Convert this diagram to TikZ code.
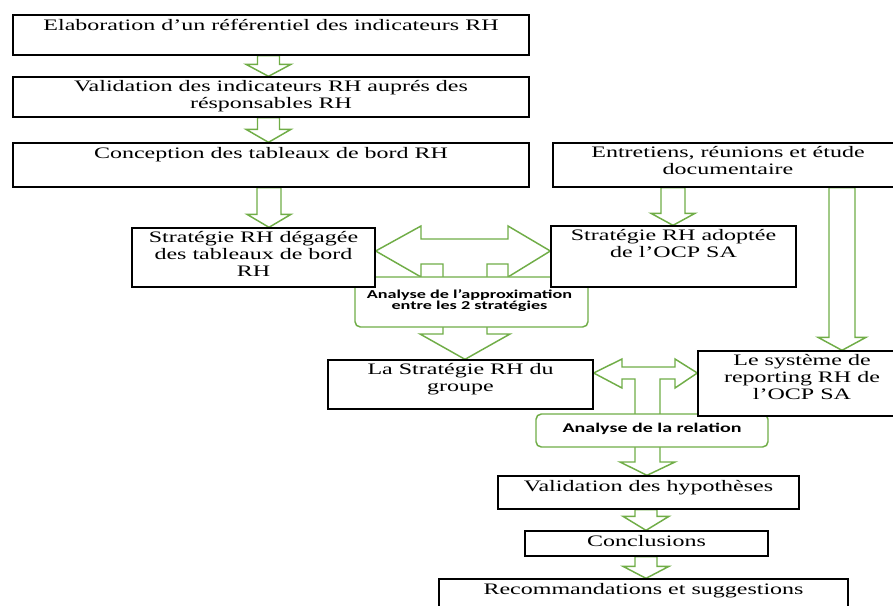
\documentclass[tikz,border=0pt]{standalone}
\usepackage{fontspec}
\setmainfont{Liberation Serif}[FakeStretch=1.5]
\newfontfamily\calb{Carlito}[FakeStretch=1.5]
\usetikzlibrary{fit,calc}
\definecolor{ogreen}{HTML}{70AD47}
\pgfdeclarelayer{back}
\pgfdeclarelayer{mid}
\pgfsetlayers{back,mid,main}
\tikzset{
  box/.style={draw=black, line width=1pt, fill=white, inner sep=0pt, rectangle},
  abox/.style={draw=ogreen, line width=1.1pt, fill=white, rounded corners=4pt, inner sep=0pt, rectangle},
  garrow/.style={draw=ogreen, line width=1.1pt, fill=white, line join=miter},
  txt/.style={anchor=north, inner sep=0pt, align=center, font=\fontsize{12}{12.75}\selectfont, execute at begin node=\rule{0pt}{9pt}},
  atxt/.style={inner sep=0pt, align=center},
}
% vertical block arrow: x (px), from node, to node, shaft half, head half, head length (px)
\newcommand\vdarrow[6]{%
  \draw[garrow] let \p1=(#2.south), \p2=(#3.north), \p3=(#1,0) in
    (\x3-#4*0.75pt,\y1) -- (\x3-#4*0.75pt,\y2+#6*0.75pt) -- (\x3-#5*0.75pt,\y2+#6*0.75pt)
    -- (\x3,\y2) -- (\x3+#5*0.75pt,\y2+#6*0.75pt) -- (\x3+#4*0.75pt,\y2+#6*0.75pt)
    -- (\x3+#4*0.75pt,\y1) -- cycle;}
\begin{document}
\begin{tikzpicture}[x=0.75pt,y=-0.75pt]
\useasboundingbox (0,0) rectangle (893,606);
\clip (0,0) rectangle (893,606);

% boxes
\node[box, fit={(13,15)(529,55)}] (b1) {};
\node[box, fit={(13,77)(529,117)}] (b2) {};
\node[box, fit={(13,143)(529,187)}] (b3) {};
\node[box, fit={(132,228)(375,287)}] (b4) {};
\node[box, fit={(551,226)(796,287)}] (b5) {};
\node[box, fit={(553,143)(903,187)}] (be) {};
\node[box, fit={(328,360)(593,409)}] (bg) {};
\node[box, fit={(698,351)(906,416)}] (ls) {};
\node[box, fit={(498,476)(799,509)}] (vh) {};
\node[box, fit={(525,531)(768,556)}] (cc) {};
\node[box, fit={(439,579)(848,625)}] (rs) {};

% texts
\node[txt] (t1) at ([yshift=-3pt]b1.north) {Elaboration d’un référentiel des indicateurs RH};
\node[txt] (t2) at ([yshift=-3pt]b2.north) {Validation des indicateurs RH auprés des\\résponsables RH};
\node[txt] (t3) at ([yshift=-3pt]b3.north) {Conception des tableaux de bord RH};
\node[txt] (t4) at ([yshift=-3pt]b4.north) {Stratégie RH dégagée\\des tableaux de bord\\RH};
\node[txt] (t5) at ([yshift=-3pt]b5.north) {Stratégie RH adoptée\\de l’OCP SA};
\node[txt] (te) at ([yshift=-3pt]be.north) {Entretiens, réunions et étude\\documentaire};
\node[txt] (tg) at ([yshift=-3pt]bg.north) {La Stratégie RH du\\groupe};
\node[txt] (tl) at ([yshift=-3pt]ls.north) {Le système de\\reporting RH de\\l’OCP SA};
\node[txt] (tv) at ([yshift=-3pt]vh.north) {Validation des hypothèses};
\node[txt] (tc) at ([yshift=-3pt]cc.north) {Conclusions};
\node[txt] (tr) at ([yshift=-3pt]rs.north) {Recommandations et suggestions};

% analysis boxes
\begin{pgfonlayer}{mid}
\node[abox, fit={(355,277)(588,327)}] (a1) {};
\node[abox, fit={(536,414)(768,447)}] (a2) {};
\end{pgfonlayer}
\node[atxt, font=\calb\bfseries\fontsize{9.1}{8.6}\selectfont] (at1) at ([xshift=-1.5pt,yshift=1pt]a1.center) {Analyse de l’approximation\\entre les 2 stratégies};
\node[atxt, font=\calb\bfseries\fontsize{10}{10}\selectfont] (at2) at ([yshift=1pt]a2.center) {Analyse de la relation};

\coordinate (T1) at (465,251);
\coordinate (T2) at (647,373);

\begin{pgfonlayer}{back}
\vdarrow{268.5}{b1}{b2}{11}{22.5}{12}
\vdarrow{268.5}{b2}{b3}{11}{22.5}{13}
\vdarrow{269}{b3}{b4}{12}{22}{13}
\vdarrow{673}{be}{b5}{12}{22}{12}
\vdarrow{842}{be}{ls}{13}{24}{13}
\vdarrow{646}{vh}{cc}{11}{23}{14}
\vdarrow{646}{cc}{rs}{11}{23}{12}
% T-shaped arrows
\draw[garrow] (b4.east |- T1) -- (421,226) -- (421,239) -- (508,239) -- (508,226)
  -- (b5.west |- T1) -- (508,277) -- (508,264) -- (487,264) -- (487,334) -- (510,334)
  -- (T1 |- bg.north) -- (420,334) -- (443,334) -- (443,264) -- (421,264) -- (421,277) -- cycle;
\draw[garrow] (bg.east |- T2) -- (622,359) -- (622,367) -- (675,367) -- (675,359)
  -- (ls.west |- T2) -- (675,388) -- (675,379) -- (660,379) -- (660,462) -- (675,462)
  -- (T2 |- vh.north) -- (620,462) -- (635,462) -- (635,379) -- (622,379) -- (622,388) -- cycle;
\end{pgfonlayer}
\end{tikzpicture}
\end{document}
